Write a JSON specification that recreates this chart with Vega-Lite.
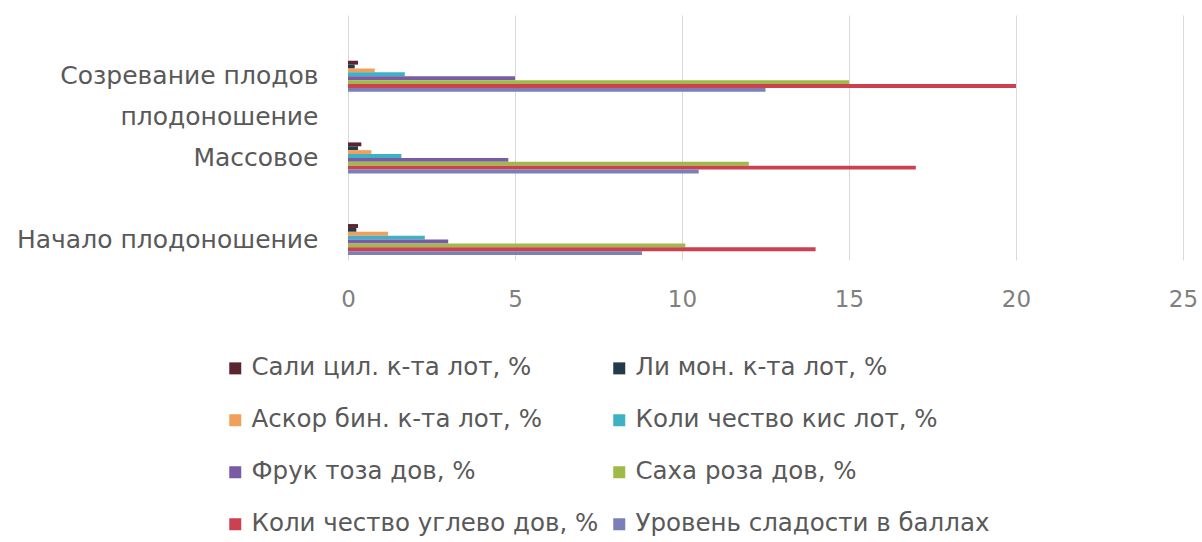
{
  "$schema": "https://vega.github.io/schema/vega-lite/v6.json",
  "width": 835,
  "height": 245,
  "autosize": {"type": "none"},
  "padding": {"left": 348, "top": 15, "right": 19, "bottom": 282},
  "background": "white",
  "config": {"view": {"stroke": null}, "font": "DejaVu Sans"},
  "data": {
    "values": [
      {"stage": "Созревание плодов", "series": "Сали цил. к-та лот, %", "value": 0.3},
      {"stage": "Созревание плодов", "series": "Ли мон. к-та лот, %", "value": 0.2},
      {"stage": "Созревание плодов", "series": "Аскор бин. к-та лот, %", "value": 0.8},
      {"stage": "Созревание плодов", "series": "Коли чество кис лот, %", "value": 1.7},
      {"stage": "Созревание плодов", "series": "Фрук тоза дов, %", "value": 5.0},
      {"stage": "Созревание плодов", "series": "Саха роза дов, %", "value": 15.0},
      {"stage": "Созревание плодов", "series": "Коли чество углево дов, %", "value": 20.0},
      {"stage": "Созревание плодов", "series": "Уровень сладости в баллах", "value": 12.5},
      {"stage": "Массовое", "series": "Сали цил. к-та лот, %", "value": 0.4},
      {"stage": "Массовое", "series": "Ли мон. к-та лот, %", "value": 0.3},
      {"stage": "Массовое", "series": "Аскор бин. к-та лот, %", "value": 0.7},
      {"stage": "Массовое", "series": "Коли чество кис лот, %", "value": 1.6},
      {"stage": "Массовое", "series": "Фрук тоза дов, %", "value": 4.8},
      {"stage": "Массовое", "series": "Саха роза дов, %", "value": 12.0},
      {"stage": "Массовое", "series": "Коли чество углево дов, %", "value": 17.0},
      {"stage": "Массовое", "series": "Уровень сладости в баллах", "value": 10.5},
      {"stage": "Начало плодоношение", "series": "Сали цил. к-та лот, %", "value": 0.3},
      {"stage": "Начало плодоношение", "series": "Ли мон. к-та лот, %", "value": 0.25},
      {"stage": "Начало плодоношение", "series": "Аскор бин. к-та лот, %", "value": 1.2},
      {"stage": "Начало плодоношение", "series": "Коли чество кис лот, %", "value": 2.3},
      {"stage": "Начало плодоношение", "series": "Фрук тоза дов, %", "value": 3.0},
      {"stage": "Начало плодоношение", "series": "Саха роза дов, %", "value": 10.1},
      {"stage": "Начало плодоношение", "series": "Коли чество углево дов, %", "value": 14.0},
      {"stage": "Начало плодоношение", "series": "Уровень сладости в баллах", "value": 8.8}
    ]
  },
  "mark": {"type": "bar"},
  "encoding": {
    "y": {
      "field": "stage",
      "type": "nominal",
      "scale": {
        "domain": ["_a", "Созревание плодов", "плодоношение", "Массовое", "_b", "Начало плодоношение"],
        "paddingInner": 0.24,
        "paddingOuter": 0.12
      },
      "axis": {
        "title": null,
        "labelExpr": "indexof(datum.value, '_') == 0 ? '' : datum.value",
        "labelFontSize": 25,
        "labelColor": "#595959",
        "labelPadding": 30,
        "labelLimit": 600,
        "ticks": false,
        "domain": false,
        "grid": false
      }
    },
    "yOffset": {
      "field": "series",
      "type": "nominal",
      "scale": {
        "domain": ["Сали цил. к-та лот, %", "Ли мон. к-та лот, %", "Аскор бин. к-та лот, %", "Коли чество кис лот, %", "Фрук тоза дов, %", "Саха роза дов, %", "Коли чество углево дов, %", "Уровень сладости в баллах"],
        "paddingInner": 0,
        "paddingOuter": 0
      }
    },
    "x": {
      "field": "value",
      "type": "quantitative",
      "scale": {"domain": [0, 25], "nice": false},
      "axis": {
        "title": null,
        "values": [0, 5, 10, 15, 20, 25],
        "labelFontSize": 23,
        "labelColor": "#7f7f7f",
        "labelFlush": false,
        "ticks": false,
        "domain": false,
        "gridColor": "#d9d9d9",
        "labelPadding": 28
      }
    },
    "color": {
      "field": "series",
      "type": "nominal",
      "scale": {
        "domain": ["Сали цил. к-та лот, %", "Ли мон. к-та лот, %", "Аскор бин. к-та лот, %", "Коли чество кис лот, %", "Фрук тоза дов, %", "Саха роза дов, %", "Коли чество углево дов, %", "Уровень сладости в баллах"],
        "range": ["#5b2530", "#24394a", "#f0a05a", "#3fb1c4", "#7a5ba6", "#9fba48", "#cc4050", "#7b7fb8"]
      },
      "legend": {
        "orient": "none",
        "legendX": -125,
        "legendY": 341,
        "direction": "horizontal",
        "columns": 2,
        "columnPadding": 8,
        "rowPadding": 27,
        "symbolType": "square",
        "symbolSize": 144,
        "symbolStrokeWidth": 0,
        "labelFontSize": 24.5,
        "labelColor": "#595959",
        "labelLimit": 600,
        "labelOffset": 4,
        "title": null
      }
    }
  }
}
